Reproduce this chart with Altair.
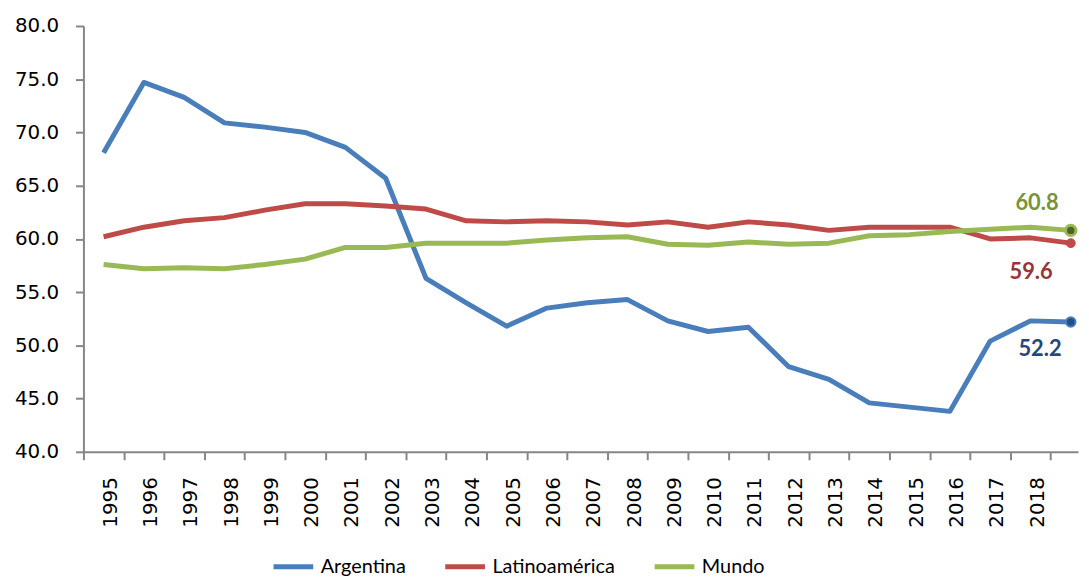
import altair as alt
import pandas as pd

# 25 observations are drawn; the axis shows 24 year labels (1995-2018)
periods = list(range(1995, 2020))
year_labels = list(range(1995, 2019))
series_names = ["Argentina", "Latinoamérica", "Mundo"]

argentina = [68.1, 74.7, 73.3, 70.9, 70.5, 70.0, 68.6, 65.7, 56.3, 54.0,
             51.8, 53.5, 54.0, 54.3, 52.3, 51.3, 51.7, 48.0, 46.8, 44.6,
             44.2, 43.8, 50.4, 52.3, 52.2]
latinoamerica = [60.2, 61.1, 61.7, 62.0, 62.7, 63.3, 63.3, 63.1, 62.8, 61.7,
                 61.6, 61.7, 61.6, 61.3, 61.6, 61.1, 61.6, 61.3, 60.8, 61.1,
                 61.1, 61.1, 60.0, 60.1, 59.6]
mundo = [57.6, 57.2, 57.3, 57.2, 57.6, 58.1, 59.2, 59.2, 59.6, 59.6,
         59.6, 59.9, 60.1, 60.2, 59.5, 59.4, 59.7, 59.5, 59.6, 60.3,
         60.4, 60.7, 60.9, 61.1, 60.8]
y_ticks = [40, 45, 50, 55, 60, 65, 70, 75, 80]

line_colors = ["#4A7EBB", "#BE4B48", "#98B954"]

rows = []
for name, vals in zip(series_names, [argentina, latinoamerica, mundo]):
    for p, v in zip(periods, vals):
        rows.append({"serie": name, "periodo": p, "valor": v})
df = pd.DataFrame(rows)

AXIS_GRAY = "#868686"
x_scale = alt.Scale(domain=[1994.5, 2019.18], nice=False, zero=False)
y_scale = alt.Scale(domain=[40, 80], nice=False, zero=False)

x_axis = alt.Axis(
    values=periods, format="d", title=None, grid=False,
    labelExpr="datum.value > 2018 ? '' : datum.label",
    labelAngle=-90, labelFont="DejaVu Sans", labelFontSize=20, labelColor="#000000",
    labelPadding=17, labelOverlap=False, labelFlush=False,
    tickOffset=-20.3, labelOffset=27,
    tickSize=8, tickWidth=2, tickColor=AXIS_GRAY,
    domainColor=AXIS_GRAY, domainWidth=2,
)
y_axis = alt.Axis(
    values=y_ticks, format=".1f", title=None, grid=False,
    labelFont="DejaVu Sans", labelFontSize=20, labelColor="#000000",
    labelPadding=17, tickSize=8, tickWidth=2, tickColor=AXIS_GRAY,
    domainColor=AXIS_GRAY, domainWidth=2,
)
legend = alt.Legend(
    orient="none", legendX=189, legendY=522, direction="horizontal", title=None,
    symbolType="stroke", symbolSize=1600, symbolStrokeWidth=5,
    labelFont="Lato", labelFontSize=20, labelColor="#000000",
    labelOffset=5, columnPadding=29,
)

base = alt.Chart(df)
X = alt.X("periodo:Q", scale=x_scale, axis=x_axis)
Y = alt.Y("valor:Q", scale=y_scale, axis=y_axis)

lines = base.mark_line(strokeWidth=5, strokeJoin="round").encode(
    x=X, y=Y,
    color=alt.Color("serie:N", scale=alt.Scale(domain=series_names, range=line_colors),
                    legend=legend, sort=series_names),
)

last = periods[-1]
marker_style = {
    "Argentina": dict(fill="#1F4E8C", stroke="#4A7EBB", strokeWidth=2, size=90),
    "Latinoamérica": dict(fill="#BE4B48", stroke="#BE4B48", strokeWidth=1, size=80),
    "Mundo": dict(fill="#4F6228", stroke="#98B954", strokeWidth=3, size=110),
}
label_style = {
    "Argentina": dict(color="#1F497D", dx=-31, dy=27),
    "Latinoamérica": dict(color="#953735", dx=-40, dy=29),
    "Mundo": dict(color="#77933C", dx=-34, dy=-28),
}

layers = [lines]
for name in series_names:
    sub = base.transform_filter(
        (alt.datum.serie == name) & (alt.datum.periodo == last)
    )
    ms = marker_style[name]
    layers.append(sub.mark_point(filled=True, shape="circle", opacity=1, **ms).encode(x=X, y=Y))
    ls = label_style[name]
    layers.append(sub.mark_text(font="Lato", fontWeight="bold", fontSize=22,
                                align="center", baseline="middle", **ls).encode(
        x=X, y=Y, text=alt.Text("valor:Q", format=".1f")))

chart = alt.layer(*layers).properties(
    width=1002, height=429,
    autosize=alt.AutoSizeParams(type="none"),
    padding={"left": 76, "top": 16, "right": 3, "bottom": 125},
    background="white",
).configure_view(stroke=None)

chart.save("out.html", embed_options={"renderer": "svg", "actions": False})
